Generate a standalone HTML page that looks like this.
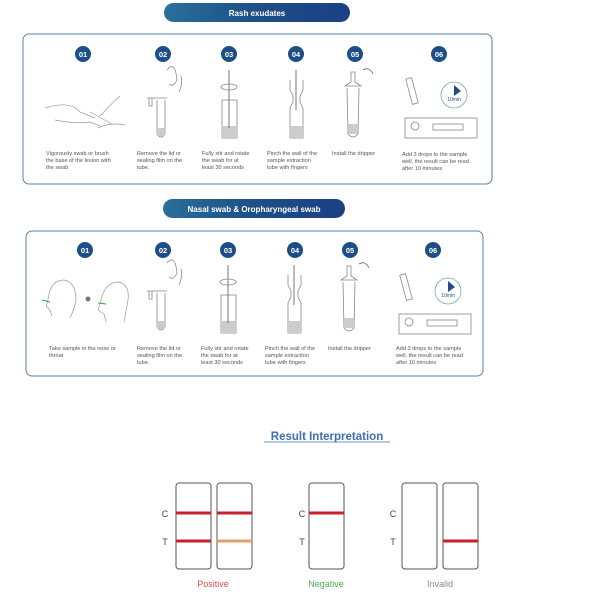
<!DOCTYPE html>
<html><head><meta charset="utf-8"><style>
html,body{margin:0;padding:0;background:#fff;}
svg{display:block;font-family:"Liberation Sans",sans-serif;}
</style></head><body>
<svg width="600" height="600" viewBox="0 0 600 600" xmlns="http://www.w3.org/2000/svg">
<defs>
<linearGradient id="bn" x1="0" x2="1" y1="0" y2="0">
<stop offset="0" stop-color="#2a6f9c"/><stop offset="0.5" stop-color="#1d4f86"/><stop offset="1" stop-color="#1b3f86"/>
</linearGradient>
<g id="tube2" fill="none" stroke="#888" stroke-width="0.8">
<path d="M-4,0 L-4,34 Q0,40 4,34 L4,0"/><rect x="-4" y="28" width="8" height="8" fill="#ccc" stroke="none"/>
<path d="M-14,-2 L6,-2 M-12,-2 L-12,6 L-9,6 L-9,-2"/>
<path d="M6,-30 Q14,-40 16,-20 Q12,-12 8,-16 M18,-8 Q22,-16 20,-24"/>
</g>
<g id="tube3" fill="none" stroke="#888" stroke-width="0.8">
<rect x="-7" y="0" width="15" height="38"/><rect x="-7" y="26" width="15" height="12" fill="#ccc" stroke="none"/>
<line x1="0" y1="-30" x2="0" y2="28" stroke="#555"/>
<ellipse cx="0" cy="-13" rx="8" ry="3"/>
</g>
<g id="tube4" fill="none" stroke="#888" stroke-width="0.8">
<path d="M-6,0 L-6,10 L-3,16 L-3,22 L-6,28 L-6,58 L7,58 L7,28 L4,22 L4,16 L7,10 L7,0"/>
<rect x="-6" y="46" width="13" height="12" fill="#ccc" stroke="none"/>
<line x1="0" y1="-10" x2="0" y2="30" stroke="#555"/>
</g>
<g id="tube5" fill="none" stroke="#888" stroke-width="0.8">
<path d="M-2,0 L-2,10 L-8,14 L8,14 L2,10 L2,0 Z"/>
<path d="M-6,16 L-5,62 Q0,68 5,62 L6,16"/><rect x="-5" y="52" width="10" height="10" fill="#ccc" stroke="none"/>
<path d="M10,-2 Q16,-6 20,2" stroke="#666"/>
</g>
<g id="cass" fill="none" stroke="#888" stroke-width="0.8">
<rect x="0" y="0" width="72" height="20"/><rect x="28" y="6" width="30" height="6"/>
<circle cx="10" cy="8" r="4"/>
<rect x="4" y="-40" width="6" height="26" transform="rotate(-15 7 -27)"/>
<circle cx="49" cy="-23" r="13" stroke="#7aa"/>
<path d="M49,-33 L56,-27 L49,-22 Z" fill="#1d4f86" stroke="none"/>
<text x="49" y="-17" font-size="5" fill="#1d4f86" stroke="none" text-anchor="middle">10min</text>
</g>
</defs>

<!-- Banner 1 -->
<rect x="164" y="3" width="186" height="19" rx="9.5" fill="url(#bn)"/>
<text x="257" y="16" font-size="8" font-weight="bold" fill="#fff" text-anchor="middle">Rash exudates</text>
<rect x="23" y="34" width="469" height="150" rx="6" fill="#fff" stroke="#5a7fae" stroke-width="1"/>
<g fill="#1d4f86"><circle cx="83" cy="54" r="8"/><circle cx="163" cy="54" r="8"/><circle cx="229" cy="54" r="8"/><circle cx="296" cy="54" r="8"/><circle cx="355" cy="54" r="8"/><circle cx="439" cy="54" r="8"/></g>
<g fill="#fff" font-size="7.5" font-weight="bold" text-anchor="middle">
<text x="83" y="57">01</text><text x="163" y="57">02</text><text x="229" y="57">03</text><text x="296" y="57">04</text><text x="355" y="57">05</text><text x="439" y="57">06</text></g>
<g fill="none" stroke="#999" stroke-width="0.7">
<path d="M45,108 Q70,100 80,112 L95,118 M55,120 Q75,124 90,122 L100,126 M90,112 L112,124 M100,116 Q115,100 120,96 M98,128 Q110,122 125,125"/>
</g>
<use href="#tube2" x="161" y="100"/>
<use href="#tube3" x="229" y="100"/>
<use href="#tube4" x="296" y="80"/>
<use href="#tube5" x="353" y="72"/>
<use href="#cass" x="405" y="118"/>
<g fill="#555" font-size="5.6">
<text x="46" y="155">Vigorously swab or brush</text><text x="46" y="162">the base of the lesion with</text><text x="46" y="169">the swab</text>
<text x="137" y="155">Remove the lid or</text><text x="137" y="162">sealing film on the</text><text x="137" y="169">tube.</text>
<text x="202" y="155">Fully stir and rotate</text><text x="202" y="162">the swab for at</text><text x="202" y="169">least 30 seconds</text>
<text x="267" y="155">Pinch the wall of the</text><text x="267" y="162">sample extraction</text><text x="267" y="169">tube with fingers</text>
<text x="332" y="155">Install the dripper</text>
<text x="402" y="156">Add 3 drops to the sample</text><text x="402" y="163">well, the result can be read</text><text x="402" y="170">after 10 minutes</text>
</g>

<!-- Banner 2 -->
<rect x="163" y="199" width="182" height="19" rx="9.5" fill="url(#bn)"/>
<text x="254" y="212" font-size="8" font-weight="bold" fill="#fff" text-anchor="middle">Nasal swab &amp; Oropharyngeal swab</text>
<rect x="26" y="231" width="457" height="145" rx="6" fill="#fff" stroke="#5a7fae" stroke-width="1"/>
<g fill="#1d4f86"><circle cx="85" cy="250" r="8"/><circle cx="163" cy="250" r="8"/><circle cx="228" cy="250" r="8"/><circle cx="295" cy="250" r="8"/><circle cx="350" cy="250" r="8"/><circle cx="433" cy="250" r="8"/></g>
<g fill="#fff" font-size="7.5" font-weight="bold" text-anchor="middle">
<text x="85" y="253">01</text><text x="163" y="253">02</text><text x="228" y="253">03</text><text x="295" y="253">04</text><text x="350" y="253">05</text><text x="433" y="253">06</text></g>
<g fill="none" stroke="#999" stroke-width="0.7">
<path d="M48,300 Q50,280 64,280 Q76,282 76,300 Q74,310 70,318 M48,300 L46,306 L50,310 L52,316"/>
<path d="M100,304 Q104,282 118,282 Q130,284 128,300 Q126,312 124,322 M100,304 L98,310 L104,314 L106,322"/>
</g>
<circle cx="88" cy="299" r="2.5" fill="#777"/>
<line x1="42" y1="300" x2="50" y2="302" stroke="#3a3" stroke-width="1"/>
<line x1="98" y1="303" x2="106" y2="304" stroke="#3a3" stroke-width="1"/>
<use href="#tube2" x="161" y="293"/>
<use href="#tube3" x="228" y="295"/>
<use href="#tube4" x="294" y="275"/>
<use href="#tube5" x="349" y="266"/>
<use href="#cass" x="399" y="314"/>
<g fill="#555" font-size="5.6">
<text x="49" y="350">Take sample in the nose or</text><text x="49" y="357">throat</text>
<text x="137" y="350">Remove the lid or</text><text x="137" y="357">sealing film on the</text><text x="137" y="364">tube.</text>
<text x="201" y="350">Fully stir and rotate</text><text x="201" y="357">the swab for at</text><text x="201" y="364">least 30 seconds</text>
<text x="265" y="350">Pinch the wall of the</text><text x="265" y="357">sample extraction</text><text x="265" y="364">tube with fingers</text>
<text x="328" y="350">Install the dripper</text>
<text x="396" y="350">Add 3 drops to the sample</text><text x="396" y="357">well, the result can be read</text><text x="396" y="364">after 10 minutes</text>
</g>

<!-- Result -->
<text x="327" y="440" font-size="11.5" font-weight="bold" fill="#3d6fb5" text-anchor="middle">Result Interpretation</text>
<line x1="264" y1="442" x2="390" y2="442" stroke="#3d6fb5" stroke-width="0.8"/>
<g fill="none" stroke="#555" stroke-width="1">
<rect x="176" y="483" width="35" height="86" rx="3"/><rect x="217" y="483" width="35" height="86" rx="3"/>
<rect x="309" y="483" width="35" height="86" rx="3"/>
<rect x="402" y="483" width="35" height="86" rx="3"/><rect x="443" y="483" width="35" height="86" rx="3"/>
</g>
<g stroke-width="3">
<line x1="176" y1="513" x2="211" y2="513" stroke="#c8202a"/><line x1="217" y1="513" x2="252" y2="513" stroke="#c8202a"/>
<line x1="176" y1="541" x2="211" y2="541" stroke="#c8202a"/><line x1="217" y1="541" x2="252" y2="541" stroke="#e0a070"/>
<line x1="309" y1="513" x2="344" y2="513" stroke="#c8202a"/>
<line x1="443" y1="541" x2="478" y2="541" stroke="#c8202a"/>
</g>
<g font-size="9" fill="#444" text-anchor="middle">
<text x="165" y="517">C</text><text x="165" y="545">T</text>
<text x="302" y="517">C</text><text x="302" y="545">T</text>
<text x="393" y="517">C</text><text x="393" y="545">T</text>
</g>
<g font-size="9" text-anchor="middle">
<text x="213" y="587" fill="#e05050">Positive</text>
<text x="326" y="587" fill="#4caf50">Negative</text>
<text x="440" y="587" fill="#888">Invalid</text>
</g>
</svg>
</body></html>
